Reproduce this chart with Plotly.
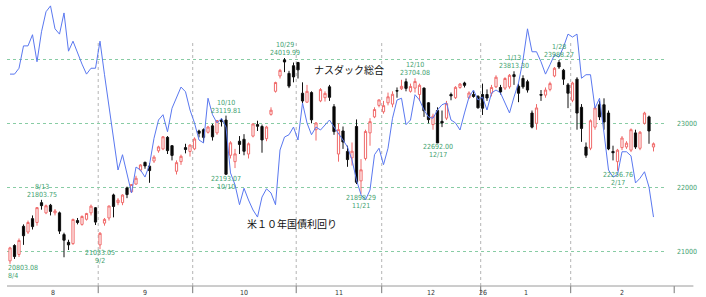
import plotly.graph_objects as go
import pandas as pd

# ---------------- data ----------------
holidays = ["2025-09-01", "2025-11-27", "2025-12-25", "2026-01-01", "2026-01-19", "2026-02-16"]
dates = [d for d in pd.bdate_range("2025-08-04", "2026-02-27") if d.strftime("%Y-%m-%d") not in holidays]

opens = [20850, 21090, 20950, 21390, 21300, 21510, 21450, 21760, 21600, 21720,
         21600, 21600, 21260, 21140, 21120, 21480, 21420, 21500, 21600, 21680,
         21100, 21440, 21520, 21880, 21760, 21760, 21990, 21930, 22050, 22270,
         22390, 22330, 22410, 22570, 22600, 22780, 22650, 22250, 22400, 22620,
         22560, 22600, 22880, 22900, 22860, 22960, 22850, 23050, 23050, 22500,
         22400, 22720, 22750, 22520, 22800, 22980, 22950, 22760, 23140, 23500,
         23740, 23990, 23780, 23900, 23950, 23470, 23330, 23480, 22900, 23350,
         23400, 23570, 23260, 22520, 22880, 22560, 22460, 22950, 22100, 22450,
         22850, 23100, 23280, 23180, 23320, 23300, 23510, 23540, 23650, 23500,
         23550, 23450, 23550, 23320, 22980, 23200, 23030, 23080, 23450, 23400,
         23560, 23630, 23400, 23450, 23420, 23450, 23450, 23470, 23570, 23560,
         23550, 23570, 23760, 23580, 23700, 23650, 23160, 23000, 23450, 23440,
         23530, 23740, 23950, 23830, 23600, 23360, 23690, 23250, 22630, 22610,
         22940, 23290, 23290, 23160, 22560, 22400, 22620, 22630, 22580, 22850,
         22610, 23000, 23100, 22630]
highs = [21070, 21110, 21200, 21420, 21480, 21560, 21690, 21804, 21730, 21740,
         21660, 21620, 21290, 21180, 21510, 21520, 21560, 21600, 21730, 21690,
         21300, 21520, 21710, 21900, 21830, 21890, 22010, 22050, 22180, 22360,
         22400, 22380, 22500, 22650, 22800, 22800, 22660, 22420, 22510, 22680,
         22670, 22780, 22900, 22920, 22960, 22990, 23050, 23080, 23120, 22720,
         22600, 22800, 22830, 22700, 23000, 23040, 22980, 22960, 23250, 23650,
         23850, 24020, 23820, 23950, 23960, 23640, 23600, 23500, 23020, 23550,
         23500, 23600, 23300, 23000, 22950, 22650, 22700, 23060, 22440, 22900,
         23080, 23250, 23370, 23350, 23480, 23500, 23560, 23680, 23700, 23620,
         23704, 23620, 23560, 23330, 23150, 23250, 23200, 23350, 23480, 23580,
         23630, 23650, 23500, 23500, 23440, 23620, 23530, 23600, 23750, 23600,
         23720, 23770, 23813, 23620, 23750, 23680, 23200, 23300, 23520, 23560,
         23650, 23880, 23988, 23850, 23630, 23650, 23720, 23300, 22700, 23060,
         23260, 23350, 23390, 23200, 22650, 22600, 22800, 22720, 22920, 22900,
         22880, 23180, 23120, 22700]
lows = [20803, 20880, 20910, 21100, 21270, 21340, 21400, 21650, 21580, 21560,
        21560, 21270, 20906, 21020, 21100, 21420, 21400, 21480, 21560, 21410,
        21033, 21400, 21480, 21530, 21720, 21720, 21830, 21910, 22040, 22250,
        22290, 22070, 22380, 22540, 22580, 22520, 22420, 22200, 22350, 22530,
        22480, 22580, 22780, 22700, 22840, 22730, 22820, 22950, 22193, 22450,
        22300, 22520, 22500, 22450, 22780, 22880, 22540, 22720, 23120, 23480,
        23700, 23800, 23550, 23640, 23700, 23300, 23320, 23000, 22730, 23330,
        23340, 23350, 22820, 22400, 22600, 22320, 22340, 22050, 21898, 22420,
        22650, 23080, 23250, 23150, 23280, 23250, 23400, 23520, 23500, 23480,
        23480, 23350, 23100, 23000, 22900, 22692, 22940, 23050, 23360, 23380,
        23540, 23560, 23380, 23400, 23230, 23130, 23350, 23420, 23550, 23450,
        23520, 23540, 23600, 23330, 23540, 23480, 22920, 22900, 23350, 23400,
        23500, 23720, 23850, 23600, 23237, 23330, 22900, 22710, 22460, 22580,
        22900, 23050, 22900, 22580, 22420, 22257, 22580, 22600, 22550, 22600,
        22580, 22980, 22680, 22560]
closes = [21053, 20917, 21169, 21243, 21450, 21385, 21682, 21713, 21711, 21623,
          21630, 21315, 21173, 21100, 21497, 21449, 21544, 21590, 21705, 21456,
          21280, 21498, 21708, 21700, 21799, 21879, 21886, 22043, 22141, 22349,
          22334, 22261, 22471, 22631, 22789, 22573, 22498, 22385, 22484, 22591,
          22660, 22755, 22844, 22780, 22942, 22788, 23043, 23025, 22204, 22695,
          22522, 22670, 22563, 22680, 22990, 22954, 22740, 22942, 23205, 23637,
          23827, 23958, 23581, 23725, 23835, 23349, 23500, 23054, 23005, 23527,
          23468, 23406, 22870, 22901, 22708, 22433, 22564, 22078, 22273, 22872,
          23026, 23215, 23366, 23276, 23414, 23454, 23505, 23578, 23546, 23576,
          23654, 23594, 23195, 23057, 23111, 22693, 23006, 23308, 23429, 23562,
          23613, 23593, 23474, 23419, 23242, 23236, 23396, 23560, 23720, 23490,
          23700, 23750, 23730, 23470, 23570, 23520, 22940, 23240, 23440, 23520,
          23620, 23860, 23880, 23690, 23470, 23630, 23160, 22920, 22500, 23040,
          23240, 23100, 23020, 22600, 22540, 22580, 22770, 22690, 22900, 22630,
          22860, 23160, 22880, 22680]
# US 10Y yield (%)
yields = [4.234, 4.234, 4.244, 4.282, 4.282, 4.301, 4.255, 4.306, 4.340, 4.350,
          4.311, 4.302, 4.338, 4.273, 4.290, 4.270, 4.251, 4.234, 4.244, 4.244,
          4.290, 4.233, 4.176, 4.122, 4.071, 4.097, 4.063, 4.032, 4.076, 4.071,
          4.059, 4.080, 4.125, 4.156, 4.165, 4.136, 4.176, 4.193, 4.212, 4.204,
          4.173, 4.151, 4.122, 4.117, 4.193, 4.165, 4.151, 4.159, 4.144, 4.066,
          4.046, 4.012, 4.040, 4.020, 4.003, 3.991, 4.025, 4.039, 4.032, 4.012,
          4.105, 4.127, 4.131, 4.144, 4.122, 4.185, 4.151, 4.131, 4.144, 4.139,
          4.148, 4.156, 4.144, 4.134, 4.122, 4.110, 4.088, 4.054, 4.029, 4.020,
          4.037, 4.097, 4.108, 4.080, 4.108, 4.159, 4.190, 4.193, 4.148, 4.156,
          4.199, 4.190, 4.173, 4.161, 4.159, 4.173, 4.182, 4.185, 4.156, 4.151,
          4.139, 4.168, 4.195, 4.207, 4.190, 4.195, 4.173, 4.202, 4.207, 4.202,
          4.185, 4.168, 4.195, 4.219, 4.258, 4.311, 4.272, 4.272, 4.255, 4.234,
          4.250, 4.267, 4.263, 4.280, 4.302, 4.297, 4.302, 4.227, 4.233, 4.233,
          4.176, 4.193, 4.134, 4.071, 4.059, 4.063, 4.102, 4.102, 4.095, 4.049,
          4.057, 4.068, 4.042, 3.991]

# swing labels: (index, kind, date text, value text)
swing_idx = [0, 7, 20, 48, 48, 61, 78, 90, 95, 112, 122, 135]
swing_kind = ["L", "H", "L", "H", "L", "H", "L", "H", "L", "H", "H", "L"]
swing_date = ["8/4", "8/13", "9/2", "10/10", "10/10", "10/29", "11/21", "12/10", "12/17", "1/13", "1/28", "2/17"]
swing_text = ["20803.08", "21803.75", "21033.05", "23119.81", "22193.07", "24019.99",
              "21898.29", "23704.08", "22692.00", "23813.30", "23988.27", "22256.76"]

price_ticks = [21000, 22000, 23000, 24000]
price_tick_text = ["21000", "22000", "23000", ""]

# ---------------- figure ----------------
GREEN = "#3f9f70"
NARROW = "Liberation Sans Narrow, DejaVu Sans Condensed, sans-serif"
x = list(range(len(dates)))
X_LO, X_HI = -0.67, 146.0

fig = go.Figure()
fig.add_trace(go.Candlestick(
    x=x, open=opens, high=highs, low=lows, close=closes,
    increasing=dict(line=dict(color="#f06a6a", width=1), fillcolor="white"),
    decreasing=dict(line=dict(color="#111111", width=1), fillcolor="#000000"),
    whiskerwidth=0, showlegend=False, hoverinfo="skip"))
fig.add_trace(go.Scatter(
    x=x, y=yields, yaxis="y2", mode="lines",
    line=dict(color="#5a78f0", width=1), showlegend=False, hoverinfo="skip"))

# month boundaries
bounds = [i - 0.4 for i in range(1, len(dates)) if dates[i].month != dates[i - 1].month]
ends = [X_LO] + bounds + [X_HI + 1.6]
month_names = [str(dates[0].month)] + [str(dates[i].month) for i in range(1, len(dates)) if dates[i].month != dates[i - 1].month]

shapes = []
for b in bounds:
    shapes.append(dict(type="line", xref="x", yref="paper", x0=b, x1=b, y0=0, y1=0.86,
                       line=dict(color="#b4b4b4", width=1, dash="dot"), layer="below"))
for b in bounds + [X_HI + 1.6]:
    px = (b - X_LO) / (X_HI - X_LO)
    shapes.append(dict(type="line", xref="paper", yref="paper", x0=px, x1=px, y0=0, y1=-0.025,
                       line=dict(color="#777777", width=1)))
shapes.append(dict(type="line", xref="paper", yref="paper", x0=0, x1=1.04, y0=0, y1=0,
                   line=dict(color="#9a9a9a", width=1)))

ann = []
for k, name in enumerate(month_names):
    c = (ends[k] + ends[k + 1]) / 2
    ann.append(dict(x=c, y=0, xref="x", yref="paper", text=name, showarrow=False,
                    yanchor="top", yshift=-1, font=dict(size=7, color="#333333", family=NARROW)))
yr = [i for i in range(1, len(dates)) if dates[i].year != dates[i - 1].year][0]
ann.append(dict(x=yr, y=0, xref="x", yref="paper", text=dates[yr].strftime("%y"), showarrow=False,
                yanchor="top", yshift=-1, font=dict(size=7, color="#333333", family=NARROW)))

lab_font = dict(size=7, color=GREEN, family=NARROW)
for i, kd, dt, tx in zip(swing_idx, swing_kind, swing_date, swing_text):
    # labels at the left edge are kept inside the plot
    xa = dict(x=X_LO, xanchor="left") if i == 0 else dict(x=i, xanchor="center")
    if kd == "H":
        yv = highs[i]
        ann.append(dict(**xa, y=yv, text=tx, showarrow=False, yshift=5, borderpad=0, font=lab_font))
        ann.append(dict(**xa, y=yv, text=dt, showarrow=False, yshift=13, borderpad=0, font=lab_font))
    else:
        yv = lows[i]
        ann.append(dict(**xa, y=yv, text=tx, showarrow=False, yshift=-4, borderpad=0, font=lab_font))
        ann.append(dict(**xa, y=yv, text=dt, showarrow=False, yshift=-12, borderpad=0, font=lab_font))

jp_font = dict(size=10, color="#111111", family="Noto Sans CJK JP")
ann.append(dict(x=0.518, y=0.79, xref="paper", yref="paper", text="ナスダック総合",
                showarrow=False, font=jp_font))
ann.append(dict(x=0.432, y=0.185, xref="paper", yref="paper", text="米１０年国債利回り",
                showarrow=False, font=jp_font))

fig.update_layout(
    width=706, height=297,
    margin=dict(l=7, r=39, t=0, b=11),
    paper_bgcolor="white", plot_bgcolor="white",
    xaxis=dict(range=[X_LO, X_HI], showgrid=False, showticklabels=False, ticks="",
               zeroline=False, showline=False, rangeslider=dict(visible=False), fixedrange=True),
    yaxis=dict(range=[20457, 24927], side="right", tickvals=price_ticks, ticktext=price_tick_text,
               showgrid=True, gridcolor="#88cca4", griddash="dot", gridwidth=1,
               zeroline=False, ticks="", ticklabelstandoff=9,
               tickfont=dict(size=7, color=GREEN, family=NARROW)),
    yaxis2=dict(range=[3.8738, 4.36], overlaying="y", visible=False),
    shapes=shapes, annotations=ann,
)

fig.write_html("out.html")
